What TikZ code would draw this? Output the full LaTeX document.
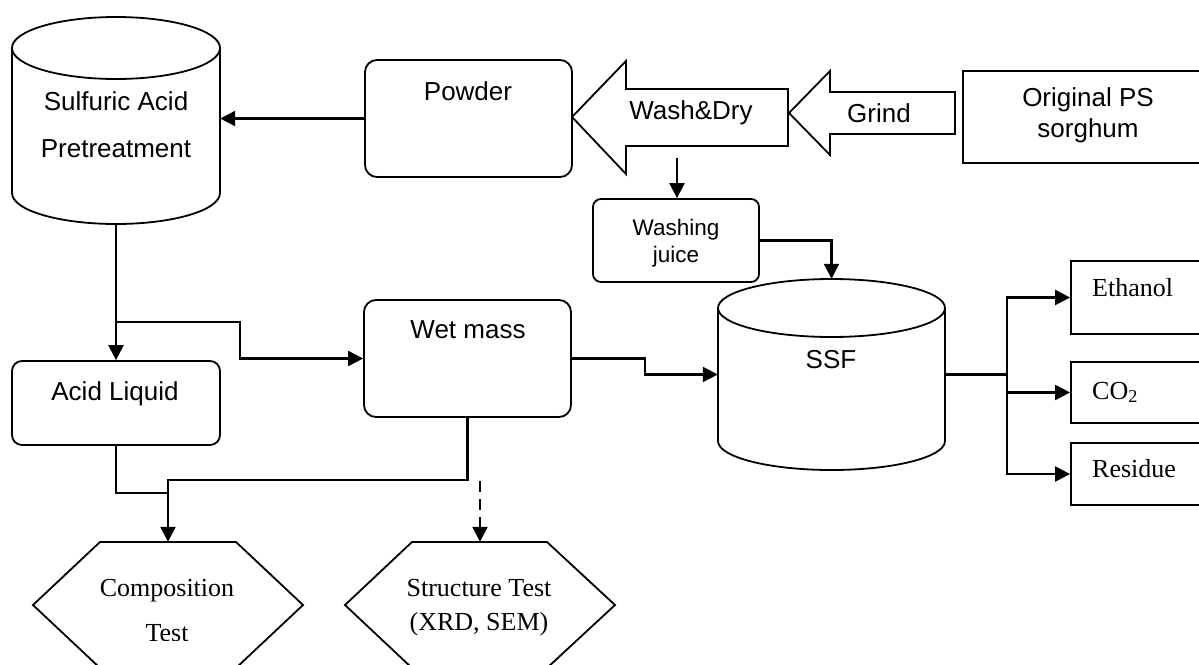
\documentclass[tikz,border=0pt]{standalone}
\usepackage{fontspec}
\setmainfont{Liberation Serif}
\newfontfamily\arialfont{Liberation Sans}
\usetikzlibrary{arrows.meta}
\begin{document}
\begin{tikzpicture}[x=1pt,y=-1pt,
  outline/.style={draw=black, line width=1.8pt},
  rbox/.style={outline, rounded corners=12pt, inner sep=0pt},
  sbox/.style={outline, inner sep=0pt},
  hidden/.style={inner sep=0pt},
  flow/.style={line width=2.2pt, -{Triangle[length=15pt,width=15pt]}},
  plain/.style={line width=2.2pt},
  dashflow/.style={flow, dash pattern=on 11pt off 7pt},
  sanslabel/.style={font=\arialfont\fontsize{26}{30}\selectfont, anchor=base, inner sep=0pt},
  smallsans/.style={font=\arialfont\fontsize{22.5}{26}\selectfont, anchor=base, inner sep=0pt},
  seriflabel/.style={font=\fontsize{26}{31}\selectfont, anchor=base, inner sep=0pt},
  seriflabelw/.style={seriflabel, anchor=base west}
]
\clip (0,0) rectangle (1199,664);
\fill[white] (0,0) rectangle (1199,664);

% ---- pretreatment drum ----
\draw[outline] (12,48) -- (12,193) arc[start angle=180, end angle=360, x radius=104pt, y radius=31pt] -- (220,48);
\draw[outline] (116,48) ellipse[x radius=104pt, y radius=31pt];
\node[hidden, minimum width=208pt, minimum height=207pt] (sulf) at (116,120.5) {};
\node[sanslabel] (sulf1) at (116,110) {Sulfuric Acid};
\node[sanslabel] (sulf2) at (116,157) {Pretreatment};

% ---- SSF drum ----
\draw[outline] (718,308) -- (718,441) arc[start angle=180, end angle=360, x radius=113.5pt, y radius=29pt] -- (945,308);
\draw[outline] (831.5,308) ellipse[x radius=113.5pt, y radius=29pt];
\node[hidden, minimum width=227pt, minimum height=191pt] (ssf) at (831.5,374.5) {};
\node[sanslabel] (ssftext) at (831,368) {SSF};

% ---- boxes ----
\node[rbox, minimum width=207pt, minimum height=117pt] (powder) at (468.5,118.5) {};
\node[sanslabel] (powdertext) at (468,100) {Powder};

\node[rbox, rounded corners=8pt, minimum width=166pt, minimum height=83pt] (juice) at (676,240.5) {};
\node[smallsans] (juice1) at (676,235) {Washing};
\node[smallsans] (juice2) at (676,262) {juice};

\node[rbox, minimum width=207pt, minimum height=117pt] (wet) at (467.5,358.5) {};
\node[sanslabel] (wettext) at (468,338) {Wet mass};

\node[rbox, rounded corners=10pt, minimum width=208pt, minimum height=84pt] (acid) at (116,403) {};
\node[sanslabel] (acidtext) at (115,400) {Acid Liquid};

\node[sbox, minimum width=252pt, minimum height=92pt] (orig) at (1089,117) {};
\node[sanslabel] (orig1) at (1088,106) {Original PS};
\node[sanslabel] (orig2) at (1088,137) {sorghum};

\node[sbox, minimum width=144pt, minimum height=73pt] (ethanol) at (1143,297.5) {};
\node[seriflabelw] (ethanoltext) at (1092,296) {Ethanol};
\node[sbox, minimum width=144pt, minimum height=61pt] (co2) at (1143,392.5) {};
\node[seriflabelw] (co2text) at (1092,399) {CO\textsubscript{2}};
\node[sbox, minimum width=144pt, minimum height=62pt] (residue) at (1143,474) {};
\node[seriflabelw] (residuetext) at (1092,477) {Residue};

% ---- block arrows ----
\draw[outline, line join=miter] (572,117) -- (626,61) -- (626,89) -- (788,89) -- (788,146) -- (626,146) -- (626,174) -- cycle;
\node[sanslabel] (washtext) at (691,119) {Wash\&Dry};
\draw[outline, line join=miter] (789,113) -- (830,71) -- (830,92) -- (955,92) -- (955,134) -- (830,134) -- (830,155) -- cycle;
\node[sanslabel] (grindtext) at (879,122) {Grind};

% ---- test hexagons ----
\draw[outline, line join=miter] (100,542) -- (236,542) -- (303,605) -- (236,668) -- (100,668) -- (33,605) -- cycle;
\node[hidden, minimum width=270pt, minimum height=126pt] (comp) at (168,605) {};
\node[seriflabel] (comp1) at (167,596) {Composition};
\begin{scope}
  \clip (40,600) rectangle (300,640.5);
  \node[seriflabel] (comp2) at (167,641) {Test};
\end{scope}
\draw[outline, line join=miter] (412,542) -- (547,542) -- (615,605) -- (547,668) -- (412,668) -- (345,605) -- cycle;
\node[hidden, minimum width=270pt, minimum height=126pt] (struct) at (480,605) {};
\node[seriflabel] (struct1) at (479,596) {Structure Test};
\node[seriflabel] (struct2) at (479,630) {(XRD, SEM)};

% ---- connectors ----
\draw[flow] (powder.west) -- (powder.west -| sulf.east);
\coordinate (wdout) at (677,158);
\draw[flow] (wdout) -- (wdout |- juice.north);
\draw[flow] (juice.east) -| (ssf.north);
\draw[flow] (sulf.south) -- (acid.north);
\coordinate (split) at (116,322);
\draw[flow] (split) -- ++(124,0) |- (wet.west);
\draw[flow] (wet.east) -- ++(73,0) |- (ssf.west);
\coordinate (hub) at (1007,374.5);
\draw[plain] (ssf.east) -- (hub);
\draw[flow] (hub) |- (ethanol.west);
\draw[flow] (hub) |- (co2.west);
\draw[flow] (hub) |- (residue.west);
\coordinate (merge) at (168,480);
\draw[plain] (acid.south) |- (168,493);
\draw[flow] (wet.south) |- (merge) -- (comp.north);
\coordinate (dashstart) at (480,481);
\draw[dashflow] (dashstart) -- (struct.north);
\end{tikzpicture}
\end{document}
